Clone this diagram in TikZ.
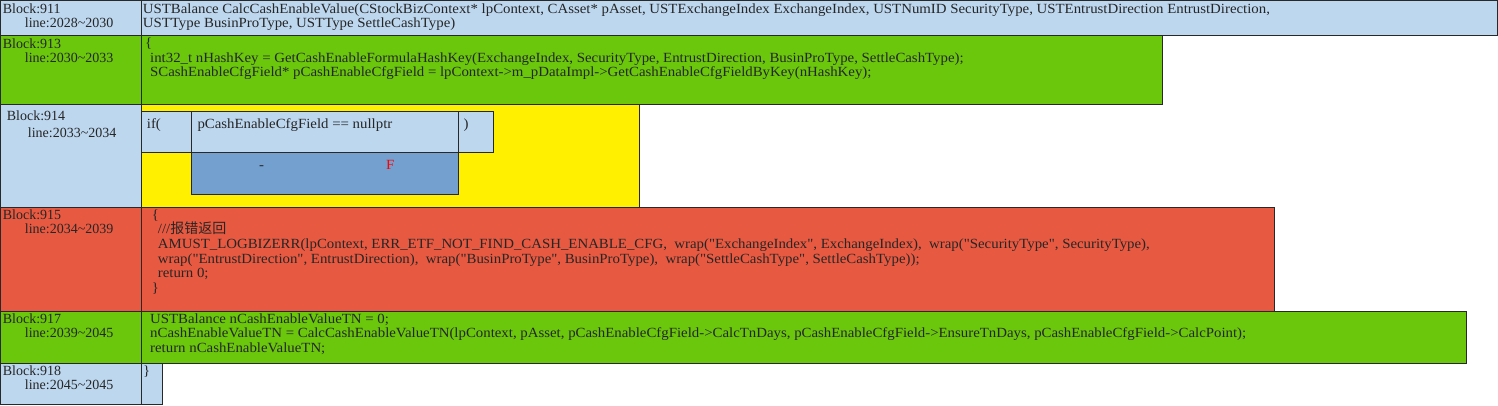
\documentclass[tikz,border=0pt]{standalone}
\usepackage{fontspec}
\setmainfont{Liberation Serif}[Ligatures=TeXOff]
\newfontfamily\codeFam{Liberation Serif}[Ligatures=TeXOff, FakeStretch=1.06]
\newfontfamily\cjk{Noto Sans CJK SC}
\usetikzlibrary{positioning}
\definecolor{cellBlue}{RGB}{189,215,239}
\definecolor{cellGreen}{RGB}{106,199,12}
\definecolor{cellRed}{RGB}{232,89,65}
\definecolor{cellYellow}{RGB}{255,240,0}
\definecolor{cellDark}{RGB}{115,160,206}
\definecolor{edgeGray}{RGB}{40,40,40}
\setlength{\parindent}{0pt}
\newcommand{\labFont}{\fontsize{14}{14.5}\selectfont\lineskiplimit=-20pt}
\newcommand{\codeFont}{\codeFam\fontsize{14}{14.5}\selectfont\lineskiplimit=-20pt}
\newcommand{\errFont}{\codeFam\fontsize{14}{14.7}\selectfont\lineskiplimit=-20pt}
\newcommand{\tld}{\textasciitilde}
\tikzset{
    cell/.style={draw=edgeGray, line width=0.9pt, anchor=north west, inner sep=0pt, outer sep=0pt},
    codeText/.style={anchor=north west, yshift=10.15pt, inner sep=0pt, align=left, font=\codeFont, text=black!85, execute at begin node=\strut},
    labText/.style={codeText, font=\labFont}
}

\begin{document}
\begin{tikzpicture}[x=1pt,y=-1pt]
    \useasboundingbox (0,0) rectangle (1498,405);
    % block 911
    \node[cell, fill=cellBlue, minimum width=141pt, minimum height=35pt] (lab911) at (0,0) {};
    \node[cell, fill=cellBlue, minimum width=1356pt, minimum height=35pt] (blk911) at (141,0) {};
    % block 913
    \node[cell, fill=cellGreen, minimum width=141pt, minimum height=69pt] (lab913) at (0,35) {};
    \node[cell, fill=cellGreen, minimum width=1021pt, minimum height=69pt] (blk913) at (141,35) {};
    % block 914
    \node[cell, fill=cellBlue, minimum width=141pt, minimum height=103pt] (lab914) at (0,104) {};
    \node[cell, fill=cellYellow, minimum width=498pt, minimum height=103pt] (blk914) at (141,104) {};
    \node[cell, fill=cellBlue, minimum width=50pt, minimum height=41.5pt] (ifOpen) at (141,111) {};
    \node[cell, fill=cellBlue, minimum width=267pt, minimum height=41.5pt] (ifCond) at (191,111) {};
    \node[cell, fill=cellBlue, minimum width=35pt, minimum height=41.5pt] (ifClose) at (458,111) {};
    \node[cell, fill=cellDark, minimum width=267pt, minimum height=41.5pt] (ifFalse) at (191,152.5) {};
    % block 915
    \node[cell, fill=cellRed, minimum width=141pt, minimum height=104pt] (lab915) at (0,207) {};
    \node[cell, fill=cellRed, minimum width=1133pt, minimum height=104pt] (blk915) at (141,207) {};
    % block 917
    \node[cell, fill=cellGreen, minimum width=141pt, minimum height=52pt] (lab917) at (0,311) {};
    \node[cell, fill=cellGreen, minimum width=1325pt, minimum height=52pt] (blk917) at (141,311) {};
    % block 918
    \node[cell, fill=cellBlue, minimum width=141pt, minimum height=41pt] (lab918) at (0,363) {};
    \node[cell, fill=cellBlue, minimum width=21pt, minimum height=41pt] (blk918) at (141,363) {};

    % labels
    \node[labText] (txtLab911) at (2.7,13.3) {Block:911\\\hspace*{22pt}line:2028\tld2030};
    \node[labText] (txtLab913) at (2.7,48.3) {Block:913\\\hspace*{22pt}line:2030\tld2033};
    \node[labText] (txtLab914) at (6.7,121) {Block:914\\[2.5pt]\hspace*{21pt}line:2033\tld2034};
    \node[labText] (txtLab915) at (2.7,219.3) {Block:915\\\hspace*{22pt}line:2034\tld2039};
    \node[labText] (txtLab917) at (2.7,323.3) {Block:917\\\hspace*{22pt}line:2039\tld2045};
    \node[labText] (txtLab918) at (2.7,375.7) {Block:918\\\hspace*{22pt}line:2045\tld2045};

    % code
    \node[codeText] (txt911) at (142.7,13.3) {USTBalance CalcCashEnableValue(CStockBizContext* lpContext, CAsset* pAsset, USTExchangeIndex ExchangeIndex, USTNumID SecurityType, USTEntrustDirection EntrustDirection,\\USTType BusinProType, USTType SettleCashType)};
    \node[codeText] (txt913) at (145,48) {\{\\\hspace*{5pt}int32\_t nHashKey = GetCashEnableFormulaHashKey(ExchangeIndex, SecurityType, EntrustDirection, BusinProType, SettleCashType);\\\hspace*{5pt}SCashEnableCfgField* pCashEnableCfgField = lpContext->m\_pDataImpl->GetCashEnableCfgFieldByKey(nHashKey);};
    \node[codeText] (txtIfOpen) at (146.7,128.3) {if(};
    \node[codeText] (txtIfCond) at (197.3,128.3) {pCashEnableCfgField == nullptr};
    \node[codeText] (txtIfClose) at (463.3,128.3) {)};
    \node[codeText] (txtDash) at (259,169.3) {-};
    \node[codeText, text=red] (txtFalse) at (386,169.3) {F};
    \node[codeText, font=\errFont] (txt915) at (151.7,219.3) {\{\\\hspace*{6pt}///{\cjk 报错返回}\\\hspace*{6pt}AMUST\_LOGBIZERR(lpContext, ERR\_ETF\_NOT\_FIND\_CASH\_ENABLE\_CFG,\ \ wrap("ExchangeIndex", ExchangeIndex),\ \ wrap("SecurityType", SecurityType),\\\hspace*{6pt}wrap("EntrustDirection", EntrustDirection),\ \ wrap("BusinProType", BusinProType),\ \ wrap("SettleCashType", SettleCashType));\\\hspace*{6pt}return 0;\\\}};
    \node[codeText] (txt917) at (150,323.3) {USTBalance nCashEnableValueTN = 0;\\nCashEnableValueTN = CalcCashEnableValueTN(lpContext, pAsset, pCashEnableCfgField->CalcTnDays, pCashEnableCfgField->EnsureTnDays, pCashEnableCfgField->CalcPoint);\\return nCashEnableValueTN;};
    \node[codeText] (txt918) at (143,375.7) {\}};
\end{tikzpicture}
\end{document}
